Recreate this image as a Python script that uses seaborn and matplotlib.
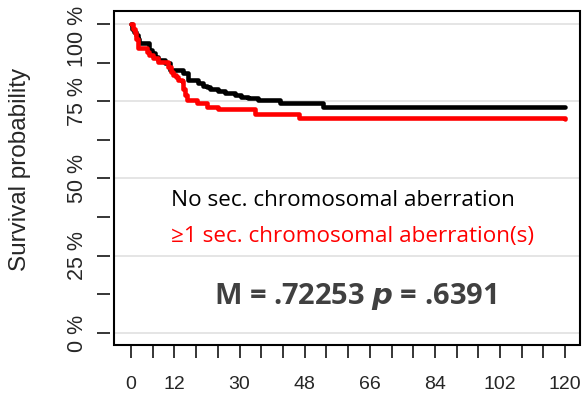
import numpy as np
import pandas as pd
import matplotlib
matplotlib.use("Agg")
import matplotlib.pyplot as plt
import matplotlib.transforms as mtransforms
from matplotlib.patches import Rectangle
import seaborn as sns

# ---- data ----
black_t = [0, 0.4, 0.9, 1.4, 1.9, 2.3, 5.1, 5.8, 6.5, 7.5, 9.4, 10.8, 14.4, 15.8,
           18.6, 19.8, 21.0, 21.8, 24.1, 26.0, 28.8, 30.5, 32.4, 35.2, 41.2, 53.2, 120]
black_s = [100, 98.5, 97.5, 96.3, 95.0, 93.8, 91.5, 90.5, 89.4, 88.3, 87.3, 85.1, 84.2, 81.9,
           80.8, 80.0, 79.5, 78.9, 78.3, 77.6, 76.9, 76.5, 75.9, 75.4, 74.3, 73.2, 73.2]
red_t = [0, 0.5, 1.0, 1.5, 1.85, 4.3, 5.0, 6.2, 7.5, 10.3, 11.0, 11.7, 12.4, 13.1,
         14.0, 14.5, 15.0, 15.4, 18.2, 20.9, 24.1, 34.3, 46.4, 120]
red_s = [100, 98.5, 97.0, 95.0, 92.2, 91.0, 89.9, 88.9, 87.8, 86.0, 84.5, 83.5, 82.7, 81.9,
         81.4, 79.0, 77.0, 75.4, 74.3, 73.2, 72.4, 71.0, 69.5, 69.3]
groups = ["No sec. chromosomal aberration", "\u22651 sec. chromosomal aberration(s)"]
x_major = [0, 12, 30, 48, 66, 84, 102, 120]
x_minor = list(range(0, 121, 6))
y_major = [0, 25, 50, 75, 100]
y_labels = ["0 %", "25 %", "50 %", "75 %", "100 %"]
y_minor = [12.5, 37.5, 62.5, 87.5]

df = pd.concat([
    pd.DataFrame({"month": black_t, "surv": black_s, "group": groups[0]}),
    pd.DataFrame({"month": red_t, "surv": red_s, "group": groups[1]}),
])

sns.set_style("white")
plt.rcParams["font.family"] = ["Liberation Sans", "DejaVu Sans"]

fig = plt.figure(figsize=(5.84, 4.01), dpi=100)
ax = fig.add_axes([114/584, 1-345/401, (580-114)/584, (345-11)/401])

for s in ax.spines.values():
    s.set_visible(False)
ax.spines["left"].set_position(("outward", 3))

for yv in y_major:
    ax.axhline(yv, color="#e0e0e0", lw=1.2, zorder=0)

sns.lineplot(data=df, x="month", y="surv", hue="group",
             palette={groups[0]: "black", groups[1]: "#ff0000"},
             drawstyle="steps-post", lw=3.3, legend=False, ax=ax, sort=False,
             estimator=None)

ax.set_xlim(-4.7, 124.1)
ax.set_ylim(-3.9, 104.2)

ax.set_xticks(x_major)
ax.set_xticklabels([str(v) for v in x_major])
ax.set_xticks(x_minor, minor=True)
ax.set_yticks(y_major)
ax.set_yticklabels(y_labels)
ax.set_yticks(y_minor, minor=True)

ax.add_patch(Rectangle((0, 0), 1, 1, transform=ax.transAxes, fill=False,
                       lw=1.5, edgecolor="black", clip_on=False, zorder=5))

ax.tick_params(axis="both", which="both", direction="out", length=9.5, width=1.1,
               color="black", bottom=True, left=True)
ax.tick_params(axis="x", which="major", pad=13, labelsize=14)
ax.tick_params(axis="y", which="major", pad=6, labelsize=15.5, labelrotation=90)
ylbls = ax.get_yticklabels()
for lbl in ylbls:
    lbl.set_va("center")
# keep the top label inside the figure (as in the reference)
ylbls[-1].set_transform(ylbls[-1].get_transform() +
                        mtransforms.ScaledTranslation(0, -12/100, fig.dpi_scale_trans))

ax.set_xlabel("")
ax.set_ylabel("Survival probability", fontsize=17.5)
ax.yaxis.set_label_coords(-0.178, 0.525)

ax.text(11.1, 43, groups[0], color="black", fontsize=16.2,
        family=["Open Sans", "DejaVu Sans"], va="center", ha="left")
ax.text(11.1, 31.2, groups[1], color="#ff0000", fontsize=16.2,
        family=["Open Sans", "DejaVu Sans"], va="center", ha="left")
ax.text(61.9, 11.7, r"M = .72253 $\mathbfit{p}$ = .6391", color="#404040", fontsize=21,
        fontweight="bold", family=["Open Sans", "DejaVu Sans"], va="center", ha="center")

fig.savefig("out.png", dpi=100)
